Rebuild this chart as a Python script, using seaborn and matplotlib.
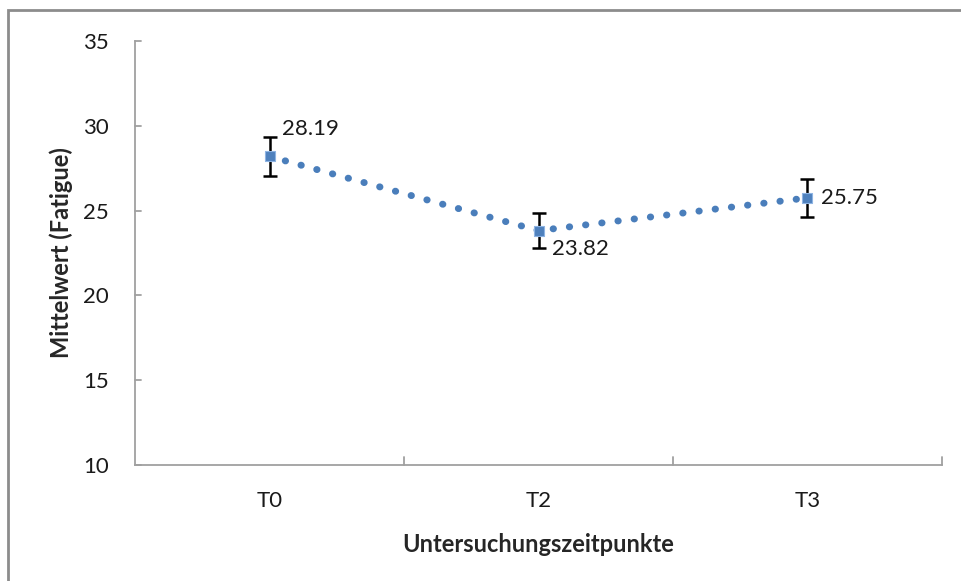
import pandas as pd
import seaborn as sns
import matplotlib.pyplot as plt
from matplotlib.patches import Rectangle

# chart values
zeitpunkte = ['T0', 'T2', 'T3']
mittelwerte = [28.19, 23.82, 25.75]
fehler = [1.13, 1.03, 1.13]
y_ticks = [10, 15, 20, 25, 30, 35]

df = pd.DataFrame({'zeit': zeitpunkte, 'wert': mittelwerte, 'pos': range(len(zeitpunkte))})

sns.set_style('white')
plt.rcParams['font.family'] = ['Lato', 'DejaVu Sans']

fig = plt.figure(figsize=(9.61, 5.81), dpi=100)
ax = fig.add_axes([135 / 961, 1 - 465 / 581, (942 - 135) / 961, (465 - 41) / 581])

blue = '#4a7ebb'
sns.lineplot(data=df, x='pos', y='wert', ax=ax, color=blue, linewidth=5,
             linestyle=(0, (0.05, 2.3)), dash_capstyle='round', zorder=2)
ax.errorbar(df['pos'], df['wert'], yerr=fehler, fmt='none', ecolor='black',
            elinewidth=1.8, capsize=5, capthick=1.8, zorder=3)
ax.scatter(df['pos'], df['wert'], marker='s', s=45, color='#4f81bd',
           edgecolor='#8eb4e3', linewidth=0.8, zorder=4)

# data labels
offsets = [(9, 20), (10, -13), (10, 0)]
for p, v, (dx, dy) in zip(df['pos'], df['wert'], offsets):
    ax.annotate(f'{v:.2f}', (p, v), xytext=(dx, dy), textcoords='offset points',
                fontsize=16, color='#1a1a1a', va='center', ha='left')

ax.set_xlim(-0.5, len(zeitpunkte) - 0.5)
ax.set_ylim(10, 35)
ax.set_yticks(y_ticks)
ax.set_yticklabels([str(t) for t in y_ticks], fontsize=16, color='#1a1a1a')
ax.set_xticks(df['pos'])
ax.set_xticklabels(zeitpunkte, fontsize=16, color='#1a1a1a')
ax.tick_params(axis='y', length=0, pad=19)
ax.tick_params(axis='x', length=0, pad=19)

# category boundary ticks on x axis, major ticks on y axis
for b in [0.5, 1.5, 2.5]:
    ax.plot([b, b], [0, 0.018], transform=ax.get_xaxis_transform(),
            color='#a0a0a0', lw=1.3, clip_on=False)
for t in y_ticks:
    ax.plot([0, 0.008], [t, t], transform=ax.get_yaxis_transform(),
            color='#a0a0a0', lw=1.3, clip_on=False)

sns.despine(ax=ax, top=True, right=True)
for s in ['left', 'bottom']:
    ax.spines[s].set_color('#a0a0a0')
    ax.spines[s].set_linewidth(1.3)

ax.set_xlabel('Untersuchungszeitpunkte', fontsize=17, fontweight='bold')
ax.set_ylabel('Mittelwert (Fatigue)', fontsize=17, fontweight='bold')
ax.xaxis.set_label_coords((538 - 135) / (942 - 135), -(544 - 465) / (465 - 41))
ax.yaxis.set_label_coords(-(135 - 61) / (942 - 135), (465 - 253) / (465 - 41))
ax.xaxis.label.set_va('center')
ax.yaxis.label.set_va('center')

# outer chart frame (cut off at right and bottom)
fig.patches.append(Rectangle((8 / 961, -0.1), 1.2, 1 - 10 / 581 + 0.1,
                             transform=fig.transFigure, fill=False,
                             edgecolor='#8c8c8c', linewidth=2))

fig.savefig('out.png', dpi=100)
